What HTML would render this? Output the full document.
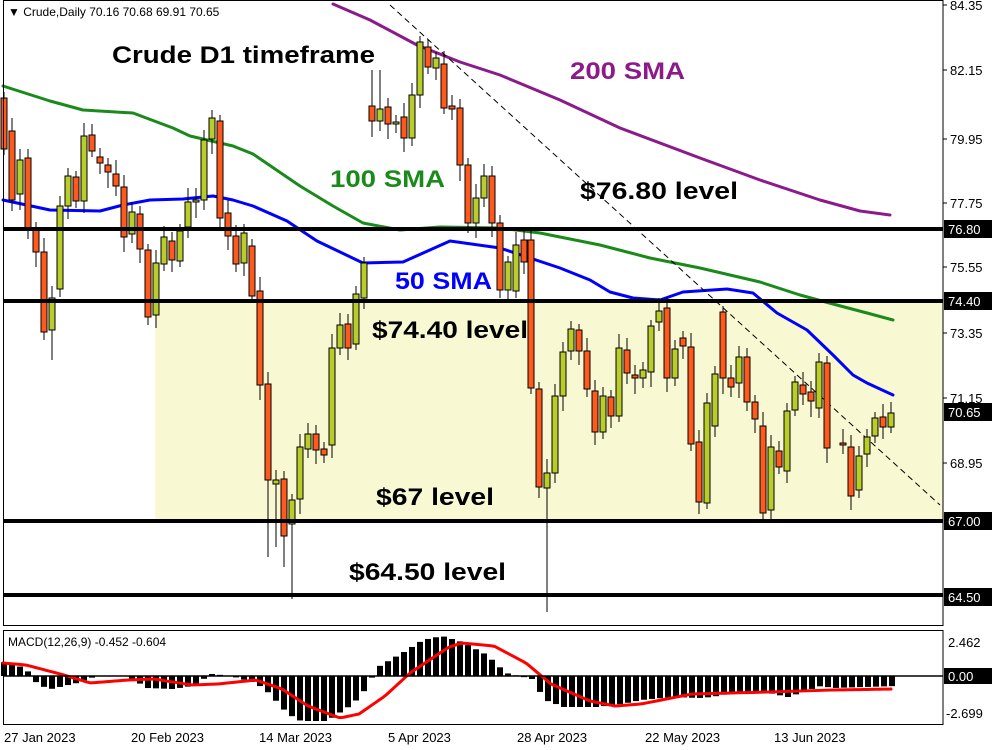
<!DOCTYPE html>
<html><head><meta charset="utf-8"><style>
body{margin:0;background:#fff}
svg{display:block}
text{font-family:"Liberation Sans",sans-serif}
.lbl{font-weight:bold;font-size:24px}
.ax{font-size:13px;fill:#000}
</style></head><body>
<svg id="s" width="1000" height="750" xmlns="http://www.w3.org/2000/svg">
<rect width="1000" height="750" fill="#fff"/>
<rect x="155" y="301" width="788" height="220" fill="#f8f8d2"/>
<g id="sma"></g>
<line x1="390" y1="5" x2="940" y2="505" stroke="#000" stroke-width="1" stroke-dasharray="6,4"/>
<g id="c"></g>
<g stroke="#000" stroke-width="4">
<line x1="3" y1="229" x2="943" y2="229"/><line x1="3" y1="301" x2="943" y2="301"/>
<line x1="3" y1="521" x2="943" y2="521"/><line x1="3" y1="595" x2="943" y2="595"/>
</g>
<text x="8" y="16" font-size="12">▼ Crude,Daily  70.16 70.68 69.91 70.65</text>
<text x="112" y="63" class="lbl" textLength="263" lengthAdjust="spacingAndGlyphs">Crude D1 timeframe</text>
<text x="570" y="79" class="lbl" fill="#8b1a8b" textLength="115" lengthAdjust="spacingAndGlyphs">200 SMA</text>
<text x="330" y="187" class="lbl" fill="#1a8a1a" textLength="115" lengthAdjust="spacingAndGlyphs">100 SMA</text>
<text x="580" y="199" class="lbl" textLength="158" lengthAdjust="spacingAndGlyphs">$76.80 level</text>
<text x="395" y="289" class="lbl" fill="#0000ff" textLength="97" lengthAdjust="spacingAndGlyphs">50 SMA</text>
<text x="372" y="338" class="lbl" textLength="156" lengthAdjust="spacingAndGlyphs">$74.40 level</text>
<text x="376" y="505" class="lbl" textLength="118" lengthAdjust="spacingAndGlyphs">$67 level</text>
<text x="349" y="580" class="lbl" textLength="157" lengthAdjust="spacingAndGlyphs">$64.50 level</text>
<rect x="3.5" y="0.5" width="939.5" height="625" fill="none" stroke="#000"/>
<rect x="3.5" y="630.5" width="939.5" height="94" fill="none" stroke="#000"/>
<g id="ax"></g>
<g id="m"></g>
<line x1="3" y1="676" x2="943" y2="676" stroke="#000" stroke-width="1.5"/>
<text x="8" y="646" font-size="12">MACD(12,26,9) -0.452 -0.604</text>
<g class="ax" font-size="14">
<text x="4" y="742">27 Jan 2023</text><text x="131" y="742">20 Feb 2023</text>
<text x="259" y="742">14 Mar 2023</text><text x="388" y="742">5 Apr 2023</text>
<text x="517" y="742">28 Apr 2023</text><text x="645" y="742">22 May 2023</text>
<text x="774" y="742">13 Jun 2023</text>
</g>
</svg>
<script>
var NS="http://www.w3.org/2000/svg";
function el(p,t,a,txt){var e=document.createElementNS(NS,t);for(var k in a)e.setAttribute(k,a[k]);if(txt)e.textContent=txt;document.getElementById(p).appendChild(e);return e;}
function pl(p,pts,col,w){el(p,'polyline',{points:pts.map(function(q){return q.join(',')}).join(' '),fill:'none',stroke:col,'stroke-width':w,'stroke-linejoin':'round','stroke-linecap':'round'});}
pl('sma',[[333,4],[370,20],[417,45],[460,62],[500,75],[560,100],[620,128],[700,158],[760,180],[820,200],[860,211],[890,215]],'#8b1a8b',3);
pl('sma',[[3,86],[50,101],[83,110],[133,113],[173,128],[190,136],[233,146],[253,154],[300,186],[333,206],[363,223],[400,230],[440,227],[500,228],[540,233],[600,245],[650,258],[700,268],[760,282],[800,295],[833,304],[867,313],[893,320]],'#1a8a1a',3);
pl('sma',[[3,200],[50,210],[100,211],[123,205],[150,200],[183,199],[213,196],[233,200],[253,206],[287,221],[317,241],[363,263],[403,262],[450,241],[500,248],[560,268],[590,280],[610,292],[633,298],[660,300],[683,292],[727,289],[753,293],[777,313],[807,330],[833,355],[853,375],[867,383],[893,395]],'#0000ff',3);
var C=[[4,98,149,'o'],[12,131,200,'o'],[20,160,194,'g'],[28,158,229,'o'],[36,229,252,'o'],[44,252,332,'o'],[52,298,330,'g'],[60,206,289,'g'],[68,176,206,'g'],[76,177,201,'o'],[84,136,201,'g'],[92,135,151,'o'],[100,157,163,'o'],[108,165,172,'o'],[116,174,186,'o'],[124,187,237,'o'],[132,212,234,'g'],[140,214,249,'o'],[148,250,317,'o'],[156,263,315,'g'],[164,237,264,'g'],[172,241,260,'o'],[180,231,261,'g'],[188,202,227,'g'],[196,200,202,'g'],[204,140,200,'g'],[212,118,139,'g'],[220,121,218,'o'],[228,213,236,'o'],[236,236,264,'o'],[244,233,263,'g'],[252,246,296,'o'],[260,291,385,'o'],[268,384,480,'o'],[276,480,484,'g'],[284,479,536,'o'],[292,500,524,'g'],[300,447,499,'g'],[308,434,449,'g'],[316,434,450,'o'],[324,449,455,'o'],[332,348,445,'g'],[340,325,348,'g'],[348,324,348,'o'],[356,294,344,'g'],[364,263,298,'g'],[372,106,121,'o'],[380,109,121,'g'],[388,107,124,'o'],[396,122,124,'g'],[404,117,138,'o'],[412,95,138,'g'],[420,42,95,'g'],[428,47,67,'o'],[436,58,68,'g'],[444,64,108,'o'],[452,106,109,'o'],[460,108,165,'o'],[468,165,223,'o'],[476,198,223,'g'],[484,176,198,'g'],[492,176,223,'o'],[500,223,290,'o'],[508,262,290,'g'],[516,245,291,'g'],[524,240,262,'o'],[531,240,388,'o'],[539,389,487,'o'],[547,473,488,'g'],[555,396,473,'g'],[563,352,396,'g'],[571,329,351,'g'],[579,330,351,'o'],[587,351,389,'o'],[595,391,432,'o'],[603,396,432,'g'],[611,397,416,'o'],[619,348,416,'g'],[627,350,373,'o'],[635,375,378,'o'],[643,370,378,'g'],[651,326,372,'g'],[659,311,322,'g'],[667,308,378,'o'],[675,349,378,'g'],[683,338,346,'o'],[691,347,444,'o'],[699,442,502,'o'],[707,403,503,'g'],[715,374,426,'g'],[723,312,378,'o'],[731,378,387,'o'],[739,357,383,'g'],[747,357,402,'o'],[755,402,419,'o'],[763,426,513,'o'],[771,447,510,'g'],[779,451,467,'o'],[787,411,471,'g'],[795,382,410,'g'],[803,385,394,'o'],[811,392,401,'o'],[819,362,408,'g'],[827,363,448,'o'],[843,443,445,'o'],[851,447,496,'o'],[859,456,490,'g'],[867,437,454,'g'],[875,418,436,'g'],[883,417,427,'o'],[891,413,427,'g']];
var W={292:[0,599],547:[0,612],284:[0,567],268:[0,557],276:[0,547],260:[0,400],420:[36,0],372:[70,0],380:[70,0],52:[0,360],44:[0,340]};
C.forEach(function(c,i){var x=c[0],t=c[1],b=c[2];var h=t-6-(i*7%9),l=b+6+(i*5%11);
 if(W[x]){if(W[x][0])h=W[x][0];if(W[x][1])l=W[x][1];}
 el('c','line',{x1:x,y1:h,x2:x,y2:l,stroke:'#000','stroke-width':1});
 el('c','rect',{x:x-3,y:t,width:6,height:Math.max(1,b-t),fill:c[3]=='o'?'#ff5a1e':'#b8cc2a',stroke:'#000','stroke-width':1});
});
var ax=[[84.35,9],[82.15,74],[79.95,143],[77.75,207],[75.55,271],[73.35,337],[71.15,402],[68.95,467]];
ax.forEach(function(a){el('ax','line',{x1:943,y1:a[1]-4,x2:947,y2:a[1]-4,stroke:'#000'});el('ax','text',{x:950,y:a[1]+1,'font-size':13},a[0].toFixed(2));});
[[76.80,229],[74.40,301],[70.65,412],[67.00,521],[64.50,597]].forEach(function(a){el('ax','rect',{x:944,y:a[1]-9,width:48,height:18,fill:'#000'});el('ax','text',{x:948,y:a[1]+5,'font-size':13,fill:'#fff'},a[0].toFixed(2));});
el('ax','text',{x:948,y:647,'font-size':13},'2.462');
el('ax','rect',{x:944,y:668,width:48,height:16,fill:'#000'});
el('ax','text',{x:948,y:681,'font-size':13,fill:'#fff'},'0.00');
el('ax','text',{x:946,y:718,'font-size':13},'-2.699');
function interp(k,x){for(var i=0;i<k.length-1;i++){if(x<=k[i+1][0]){var f=(x-k[i][0])/(k[i+1][0]-k[i][0]);return k[i][1]+f*(k[i+1][1]-k[i][1]);}}return k[k.length-1][1];}
var H=[[3,14],[19,10],[29,4],[38,-9],[51,-13],[64,-10],[77,-7],[90,-2],[102,0],[128,0],[147,-12],[173,-13],[192,-10],[212,2],[231,0],[256,-7],[269,-17],[288,-38],[301,-45],[327,-45],[353,-28],[365,-14],[378,9],[404,24],[423,36],[442,40],[462,34],[487,21],[506,3],[532,-3],[545,-24],[564,-31],[596,-31],[622,-28],[641,-24],[673,-21],[699,-22],[712,-21],[737,-16],[769,-17],[788,-21],[821,-10],[833,-12],[897,-10]];
for(var x=4;x<=896;x+=8){var h=interp(H,x);el('m','rect',{x:x-3,y:h>0?676-h:676,width:6,height:Math.abs(h),fill:'#000'});}
var S=[[3,13],[26,11],[64,1],[90,-7],[128,-4],[154,-3],[192,-9],[218,-8],[256,-4],[282,-13],[308,-30],[340,-42],[359,-38],[385,-20],[410,3],[449,29],[462,33],[494,30],[526,13],[551,-8],[590,-25],[615,-30],[641,-28],[692,-18],[769,-16],[833,-14],[894,-13]];
var sp=[];for(var x=3;x<=894;x+=4)sp.push([x,676-interp(S,x)]);
pl('m',sp,'#ff0000',3);
</script>
</body></html>
